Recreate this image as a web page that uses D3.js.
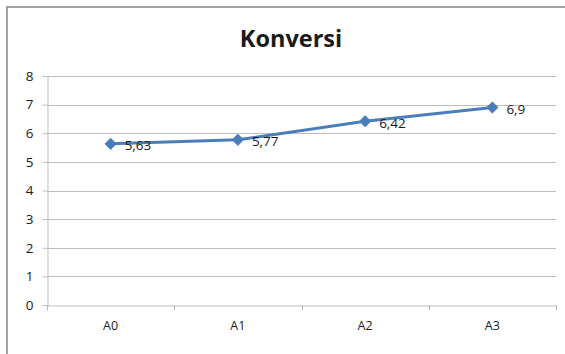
<!DOCTYPE html>
<html>
<head>
<meta charset="utf-8">
<script src="https://cdn.jsdelivr.net/npm/d3@7"></script>
<style>
  html, body { margin: 0; padding: 0; background: #fff; }
  svg { display: block; }
  text { font-family: "Open Sans", "Noto Sans", sans-serif; fill: #1a1a1a; }
</style>
</head>
<body>
<svg id="chart" width="565" height="354"></svg>
<script>
// Konversi per perlakuan
const categories = ["A0", "A1", "A2", "A3"];
const values = [5.63, 5.77, 6.42, 6.9];
const valueLabels = ["5,63", "5,77", "6,42", "6,9"];
const yTicks = [0, 1, 2, 3, 4, 5, 6, 7, 8];
const title = "Konversi";

const svg = d3.select("#chart");
const W = 565, H = 354;
const plot = { left: 47, right: 556, top: 76, bottom: 305 };

// chart frame (continues past the right and bottom edges)
svg.append("rect")
  .attr("x", 7).attr("y", 7)
  .attr("width", W + 20).attr("height", H + 20)
  .attr("fill", "#fff")
  .attr("stroke", "#8c8c8c").attr("stroke-width", 1.6);

const x = d3.scaleBand().domain(categories).range([plot.left, plot.right]).padding(0);
const y = d3.scaleLinear().domain([0, 8]).range([plot.bottom, plot.top]);

// horizontal gridlines
svg.append("g")
  .selectAll("line")
  .data(yTicks.filter(d => d > 0))
  .join("line")
  .attr("x1", plot.left).attr("x2", plot.right)
  .attr("y1", d => Math.round(y(d)) + 0.5).attr("y2", d => Math.round(y(d)) + 0.5)
  .attr("stroke", "#bdbdbd").attr("stroke-width", 1);

// y axis
const yAxis = svg.append("g")
  .attr("transform", `translate(${plot.left + 0.5},0)`)
  .call(d3.axisLeft(y).tickValues(yTicks).tickSize(5).tickSizeOuter(0).tickPadding(9));
yAxis.select(".domain").attr("stroke", "#bdbdbd");
yAxis.selectAll(".tick line").attr("stroke", "#bdbdbd");
yAxis.selectAll(".tick text")
  .attr("font-size", 13.5).attr("fill", "#1a1a1a")
  .style("font-family", "'Open Sans', sans-serif");

// x axis with ticks at category boundaries
const xAxis = svg.append("g")
  .attr("transform", `translate(0,${Math.round(plot.bottom) + 0.5})`)
  .call(d3.axisBottom(x).tickSize(0).tickSizeOuter(0).tickPadding(16));
xAxis.select(".domain").attr("stroke", "#bdbdbd");
xAxis.selectAll(".tick text")
  .attr("font-size", 12.5).attr("fill", "#1a1a1a")
  .style("font-family", "'Open Sans', sans-serif");
const bounds = categories.map(c => x(c)).concat([plot.right]);
svg.append("g")
  .selectAll("line")
  .data(bounds)
  .join("line")
  .attr("x1", d => Math.round(d) + 0.5).attr("x2", d => Math.round(d) + 0.5)
  .attr("y1", plot.bottom).attr("y2", plot.bottom + 5.5)
  .attr("stroke", "#bdbdbd");

// series line
const pts = categories.map((c, i) => [x(c) + x.bandwidth() / 2, y(values[i])]);
svg.append("path")
  .attr("d", d3.line()(pts))
  .attr("fill", "none")
  .attr("stroke", "#4a7ebb")
  .attr("stroke-width", 3)
  .attr("stroke-linejoin", "round");

// diamond markers
svg.append("g")
  .selectAll("path")
  .data(pts)
  .join("path")
  .attr("transform", d => `translate(${d[0]},${d[1]})`)
  .attr("d", d3.symbol(d3.symbolDiamond2, 80)())
  .attr("fill", "#4a7ebb")
  .attr("stroke", "#4a7ebb")
  .attr("stroke-width", 1);

// value labels
svg.append("g")
  .selectAll("text")
  .data(pts)
  .join("text")
  .attr("x", d => d[0] + 14)
  .attr("y", d => d[1] + 6.5)
  .attr("font-size", 13.5)
  .text((d, i) => valueLabels[i]);

// title
svg.append("text")
  .attr("x", 291).attr("y", 47)
  .attr("text-anchor", "middle")
  .attr("font-size", 23.5)
  .attr("font-weight", "bold")
  .attr("fill", "#000")
  .text(title);
</script>
</body>
</html>
